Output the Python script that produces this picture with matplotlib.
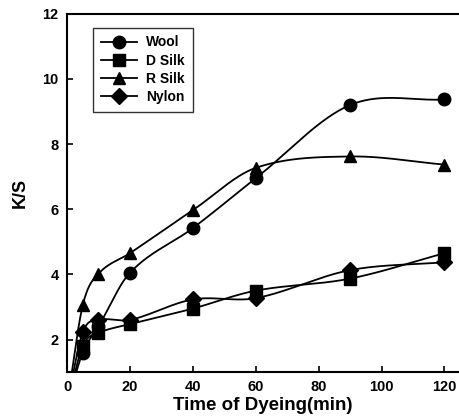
import numpy as np
import matplotlib
matplotlib.use("Agg")
import matplotlib.pyplot as plt

plt.rcParams['font.family'] = ['Liberation Sans', 'DejaVu Sans']
plt.rcParams['font.weight'] = 'bold'

# data (time in min, K/S)
time = [0, 5, 10, 20, 40, 60, 90, 120]
wool = [0, 1.6, 2.4, 4.05, 5.42, 6.95, 9.2, 9.37]
d_silk = [0, 1.8, 2.2, 2.47, 2.95, 3.5, 3.87, 4.65]
r_silk = [0, 3.05, 4.02, 4.65, 5.97, 7.27, 7.62, 7.37]
nylon = [0, 2.22, 2.6, 2.6, 3.23, 3.27, 4.13, 4.37]

series = [("Wool", wool, "o"), ("D Silk", d_silk, "s"),
          ("R Silk", r_silk, "^"), ("Nylon", nylon, "D")]


def smooth_line(x, y, per_seg=60):
    # Catmull-Rom style Hermite curve, only for drawing the connecting line
    x = np.asarray(x, float)
    y = np.asarray(y, float)
    k = len(x)
    m = np.zeros(k)
    m[0] = (y[1] - y[0]) / (x[1] - x[0])
    m[-1] = (y[-1] - y[-2]) / (x[-1] - x[-2])
    for i in range(1, k - 1):
        m[i] = (y[i + 1] - y[i - 1]) / (x[i + 1] - x[i - 1])
    xs, ys = [], []
    for i in range(k - 1):
        h = x[i + 1] - x[i]
        t = np.linspace(0, 1, per_seg)
        h00 = 2 * t ** 3 - 3 * t ** 2 + 1
        h10 = t ** 3 - 2 * t ** 2 + t
        h01 = -2 * t ** 3 + 3 * t ** 2
        h11 = t ** 3 - t ** 2
        xs.append(x[i] + t * h)
        ys.append(h00 * y[i] + h10 * h * m[i] + h01 * y[i + 1] + h11 * h * m[i + 1])
    return np.concatenate(xs), np.concatenate(ys)


fig = plt.figure(figsize=(4.6, 4.19), dpi=100)
ax = fig.add_axes([0.1457, 0.112, 0.852, 0.855])

for name, vals, mk in series:
    xs, ys = smooth_line(time, vals)
    ax.plot(xs, ys, color='black', lw=1.3)
    ms = 9 if mk != "D" else 8
    ax.plot(time, vals, ls='none', marker=mk, ms=ms, color='black')
    ax.plot([], [], color='black', lw=1.3, marker=mk, ms=ms, label=name)

ax.set_xlim(0, 124.6)
ax.set_ylim(1, 12)
ax.set_xticks([0, 20, 40, 60, 80, 100, 120])
ax.set_yticks([2, 4, 6, 8, 10, 12])
ax.tick_params(direction='in', length=4, width=1.2, labelsize=10.5, pad=6)
for lab in ax.get_xticklabels() + ax.get_yticklabels():
    lab.set_fontweight('bold')
ax.spines['right'].set_visible(False)
for s in ['left', 'bottom', 'top']:
    ax.spines[s].set_linewidth(1.5)

ax.set_xlabel('Time of Dyeing(min)', fontsize=13.5, fontweight='bold', labelpad=2)
ax.set_ylabel('K/S', fontsize=13, fontweight='bold', labelpad=10)

leg = ax.legend(loc='upper left', bbox_to_anchor=(0.066, 0.961), fontsize=10,
                frameon=True, fancybox=False, edgecolor='black',
                handlelength=2.6, borderpad=0.55, labelspacing=0.3,
                handletextpad=0.7, borderaxespad=0)
leg.get_frame().set_linewidth(1.0)
for t in leg.get_texts():
    t.set_fontweight('bold')

fig.savefig('out.png', dpi=100)
